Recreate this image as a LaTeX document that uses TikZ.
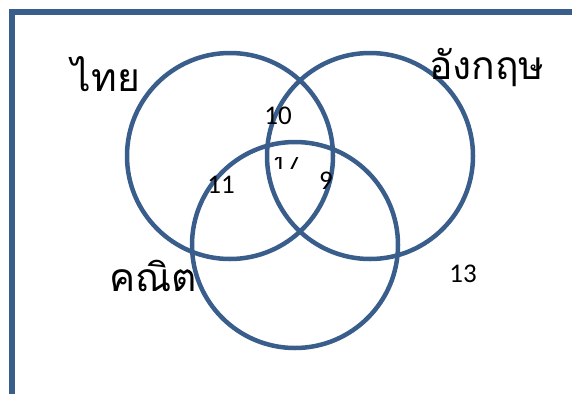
\documentclass[tikz,border=0pt]{standalone}
\usepackage{fontspec}
\setmainfont{Carlito}
\newfontfamily\thaifont[Script=Thai]{Loma}
\usetikzlibrary{positioning}
\definecolor{vennblue}{HTML}{3A5E8C}

\begin{document}
\begin{tikzpicture}[
  x=1pt, y=-1pt,
  ring/.style={circle, draw=vennblue, line width=4.5pt, minimum size=206pt, inner sep=0pt},
  num/.style={font=\fontsize{27}{29}\selectfont, inner sep=0pt},
  subj/.style={font=\thaifont\fontsize{39}{41}\selectfont, inner sep=0pt}
]
\useasboundingbox (0,0) rectangle (572,394);
% frame (left and top edges only)
\draw[vennblue, line width=5.5pt] (12,394) -- (12,12) -- (572,12);

% the three sets
\node[ring] (thai) at (230,156) {};
\node[ring] (eng)  at (370,156) {};
\node[ring] (math) at (295,245) {};

% set names
\node[subj] (thailbl) at (106,74) {ไทย};
\node[subj] (englbl)  at (487,68) {อังกฤษ};
\node[subj] (mathlbl) at (153,276) {คณิต};

% counts
\node[num] (n10) at (278,116) {10};
\node[num] (n11) at (221,185) {11};
\node[num] (n9)  at (326,181) {9};
\node[num] (n13) at (463,274) {13};
\begin{scope}
  \clip (270,157) rectangle (300,168);
  \node[num] (n17) at (286,164) {17};
\end{scope}
\end{tikzpicture}
\end{document}
